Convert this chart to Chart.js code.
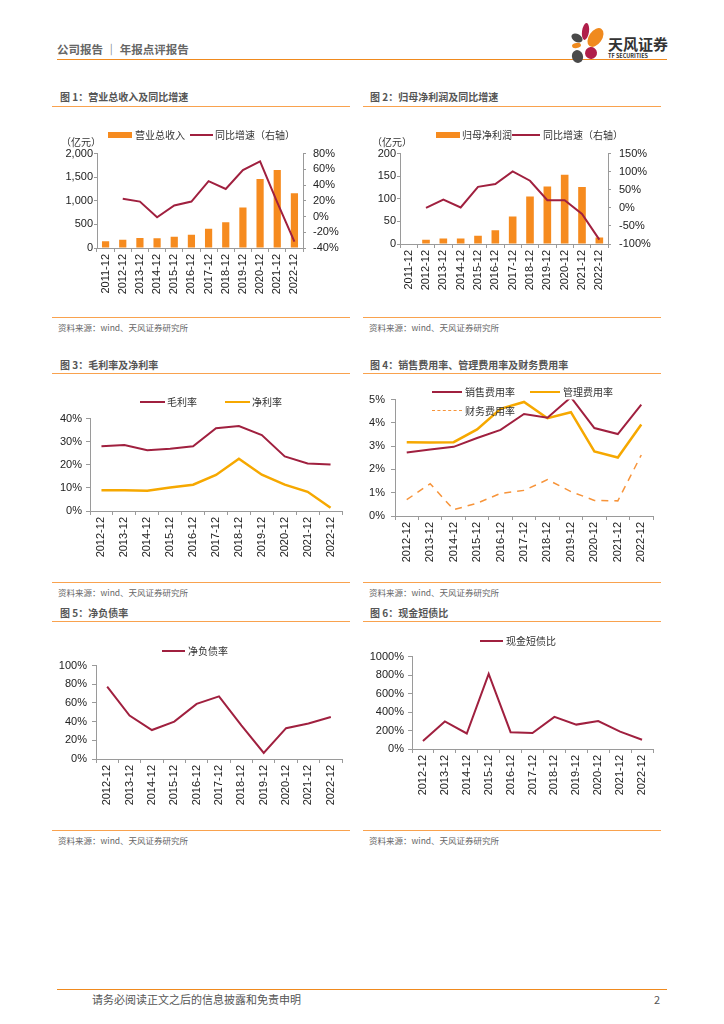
<!DOCTYPE html>
<html><head><meta charset="utf-8">
<script src="https://cdn.jsdelivr.net/npm/chart.js@4"></script>
<style>
body{margin:0;background:#fff;}
#page{position:relative;width:724px;height:1024px;overflow:hidden;background:#fff;font-family:"Noto Sans CJK SC","Noto Sans",sans-serif;}
.t{position:absolute;white-space:nowrap;}
.hl{position:absolute;height:0;}
canvas{position:absolute;}
.petal{position:absolute;border-radius:50%;}
</style></head><body><div id="page"></div>
<script>
// ---------------- DATA ----------------
const categories12 = ['2011-12','2012-12','2013-12','2014-12','2015-12','2016-12','2017-12','2018-12','2019-12','2020-12','2021-12','2022-12'];
const categories11 = ['2012-12','2013-12','2014-12','2015-12','2016-12','2017-12','2018-12','2019-12','2020-12','2021-12','2022-12'];
const revenue        = [143, 175, 212, 205, 238, 280, 408, 545, 858, 1462, 1650, 1158];
const revenueGrowth  = [null, 22.5, 19, -1, 14, 19, 45, 35, 59, 70, 18, -32];
const netProfit      = [null, 9.5, 12, 12, 18.5, 30.5, 61, 105, 127, 153, 126, 14.5];
const netProfitGrowth= [null, 0, 23, 1, 58, 66, 101, 75, 21, 21, -17, -88];
const grossMargin    = [28.0, 28.6, 26.3, 26.9, 28.0, 35.8, 36.8, 32.9, 23.6, 20.6, 20.1];
const netMargin      = [9.0, 9.0, 8.8, 10.2, 11.4, 15.6, 22.6, 15.7, 11.4, 8.3, 1.4];
const sellingRate    = [2.73, 2.86, 2.97, 3.35, 3.70, 4.38, 4.22, 5.10, 3.78, 3.52, 4.78];
const adminRate      = [3.17, 3.16, 3.17, 3.72, 4.60, 4.90, 4.20, 4.46, 2.77, 2.51, 3.93];
const financeRate    = [0.70, 1.39, 0.27, 0.55, 0.97, 1.10, 1.56, 1.05, 0.67, 0.65, 2.62];
const netDebtRatio   = [77.5, 46.5, 31, 40, 59, 67, 36, 6.5, 33, 38, 45];
const cashShortDebt  = [86, 298, 168, 812, 182, 172, 348, 264, 302, 188, 100];

// ---------------- STYLE ----------------
const MAROON = '#A0203F', ORANGE = '#F68B1F', GOLD = '#F6A800', DASHOR = '#F7943A';
const AX = '#9a9a9a', TC = '#222', NUM = "'Liberation Sans', Arial, sans-serif";
const page = document.getElementById('page');

function txt(s, x, yc, size, color, weight){
  const d = document.createElement('div');
  d.className = 't'; d.textContent = s;
  d.style.left = x + 'px'; d.style.top = (yc - size*0.6) + 'px';
  d.style.fontSize = size + 'px'; d.style.lineHeight = (size*1.2) + 'px';
  d.style.color = color || '#333'; d.style.fontWeight = weight || 'normal';
  page.appendChild(d); return d;
}
function hline(x0, x1, y, color, w){
  const d = document.createElement('div'); d.className = 'hl';
  d.style.left = x0 + 'px'; d.style.top = (y - w/2) + 'px'; d.style.width = (x1 - x0) + 'px';
  d.style.borderTop = w + 'px solid ' + color; page.appendChild(d);
}
function swatch(kind, color, x0, x1, y){
  const d = document.createElement('div'); d.style.position = 'absolute';
  d.style.left = x0 + 'px'; d.style.width = (x1 - x0) + 'px';
  if (kind === 'bar'){ d.style.top = (y - 3) + 'px'; d.style.height = '6px'; d.style.background = color; }
  else if (kind === 'line'){ d.style.top = (y - 1) + 'px'; d.style.height = '0'; d.style.borderTop = '2px solid ' + color; }
  else if (kind === 'gold'){ d.style.top = (y - 1.25) + 'px'; d.style.height = '0'; d.style.borderTop = '2.5px solid ' + color; }
  else { d.style.top = (y - 0.75) + 'px'; d.style.height = '0'; d.style.borderTop = '1.5px dashed ' + color; }
  page.appendChild(d);
}
function petal(cx, cy, w, h, rot, color){
  const d = document.createElement('div'); d.className = 'petal';
  d.style.left = (cx - w/2) + 'px'; d.style.top = (cy - h/2) + 'px';
  d.style.width = w + 'px'; d.style.height = h + 'px';
  d.style.background = color; d.style.transform = 'rotate(' + rot + 'deg)';
  page.appendChild(d);
}

// ---------------- PAGE FRAME ----------------
txt('公司报告 ｜ 年报点评报告', 57, 50, 11.5, '#666', 'bold');
hline(57, 667, 60, '#F08A1E', 1.6);
petal(585, 31, 7, 17, 8, '#B01E4A');
petal(595, 37, 13, 21, 35, '#F08A1E');
petal(577, 37.5, 12, 8, 30, '#4a4a4a');
petal(576, 45.5, 9, 5, -10, '#F08A1E');
petal(577, 56, 11, 13, -20, '#4a4a4a');
petal(591, 53, 12, 12, 40, '#B01E4A');
txt('天风证券', 608, 44, 15, '#333', 'bold');
txt('TF SECURITIES', 608, 56, 5.5, '#333', 'bold');
hline(57, 667, 990, '#F08A1E', 1.6);
txt('请务必阅读正文之后的信息披露和免责申明', 92, 1000, 11, '#555');
txt('2', 654, 1000, 11, '#555');

const TITLES = [
  ['图 1：营业总收入及同比增速', 60, 97], ['图 2：归母净利润及同比增速', 370, 97],
  ['图 3：毛利率及净利率', 60, 365], ['图 4：销售费用率、管理费用率及财务费用率', 370, 365],
  ['图 5：净负债率', 60, 613], ['图 6：现金短债比', 370, 613]
];
TITLES.forEach(t => txt(t[0], t[1], t[2], 10, '#555', 'bold'));
[107, 374, 622].forEach(y => { hline(52, 350, y, '#F9A24E', 1.5); hline(363, 661, y, '#F9A24E', 1.5); });
[[318, 327], [583, 592], [831, 840]].forEach(p => {
  hline(52, 350, p[0], '#F9A24E', 1.5); hline(363, 661, p[0], '#F9A24E', 1.5);
  txt('资料来源：wind、天风证券研究所', 58, p[1], 8.5, '#666');
  txt('资料来源：wind、天风证券研究所', 369, p[1], 8.5, '#666');
});

// ---------------- CHART HELPERS ----------------
function xAxis(xh){
  return {type:'category', offset:true,
    grid:{offset:true, drawOnChartArea:false, tickLength:4, color:AX},
    border:{color:AX},
    ticks:{autoSkip:false, minRotation:90, maxRotation:90, padding:2, color:TC, font:{size:11, family:NUM}},
    afterFit:s => { s.height = xh; }};
}
function yAxis(pos, min, max, step, fmt, w, pad, tl){
  return {type:'linear', position:pos, min:min, max:max,
    grid:{drawOnChartArea:false, tickLength:tl, color:AX},
    border:{color:AX},
    ticks:{stepSize:step, autoSkip:false, callback:fmt, padding:pad, color:TC, font:{size:11, family:NUM}},
    afterFit:s => { s.width = w; }};
}
const pct = v => v + '%';
const thou = v => v.toLocaleString('en-US');
function mk(g, type, labels, datasets, scales){
  const c = document.createElement('canvas');
  c.width = g.w; c.height = g.h;
  c.style.left = g.l + 'px'; c.style.top = g.t + 'px';
  c.style.width = g.w + 'px'; c.style.height = g.h + 'px';
  page.appendChild(c);
  return new Chart(c, {type:type, data:{labels:labels, datasets:datasets},
    options:{responsive:false, animation:false,
      layout:{padding:{top:g.pt, right:g.pr || 0, left:0, bottom:0}},
      plugins:{legend:{display:false}, tooltip:{enabled:false}},
      elements:{point:{radius:0}, line:{tension:0}},
      scales:scales}});
}

// ---------------- CHART 1 ----------------
mk({l:55, t:140, w:295, h:160, pt:10}, 'bar', categories12, [
  {type:'line', label:'同比增速（右轴）', data:revenueGrowth, yAxisID:'y1', borderColor:MAROON, borderWidth:2, order:0, spanGaps:false},
  {type:'bar', label:'营业总收入', data:revenue, yAxisID:'y', backgroundColor:ORANGE, barPercentage:0.42, categoryPercentage:1, order:1}
], {x:xAxis(52), y:yAxis('left', 0, 2000, 500, thou, 42, 1, 3), y1:yAxis('right', -40, 80, 20, pct, 47, 7, 3)});
txt('（亿元）', 61, 142, 10, '#333');
swatch('bar', ORANGE, 108, 132, 135); txt('营业总收入', 135, 135, 10, '#333');
swatch('line', MAROON, 190, 213, 135); txt('同比增速（右轴）', 215, 135, 10, '#333');

// ---------------- CHART 2 ----------------
mk({l:362, t:139, w:298, h:161, pt:10}, 'bar', categories12, [
  {type:'line', label:'同比增速（右轴）', data:netProfitGrowth, yAxisID:'y1', borderColor:MAROON, borderWidth:2, order:0},
  {type:'bar', label:'归母净利润', data:netProfit, yAxisID:'y', backgroundColor:ORANGE, barPercentage:0.44, categoryPercentage:1, order:1}
], {x:xAxis(56), y:yAxis('left', 0, 200, 50, v => v, 38, 1, 3), y1:yAxis('right', -100, 150, 50, pct, 52, 8, 3)});
txt('（亿元）', 372, 142, 10, '#333');
swatch('bar', ORANGE, 436, 460, 135); txt('归母净利润', 462, 135, 10, '#333');
swatch('line', MAROON, 512, 540, 135); txt('同比增速（右轴）', 543, 135, 10, '#333');

// ---------------- CHART 3 ----------------
mk({l:52, t:408, w:298, h:157, pt:10, pr:8}, 'line', categories11, [
  {label:'毛利率', data:grossMargin, borderColor:MAROON, borderWidth:2},
  {label:'净利率', data:netMargin, borderColor:GOLD, borderWidth:2.5}
], {x:xAxis(54), y:yAxis('left', 0, 40, 10, pct, 38, 4, 4)});
swatch('line', MAROON, 140, 165, 402); txt('毛利率', 167, 402, 10, '#333');
swatch('gold', GOLD, 225, 250, 402); txt('净利率', 252, 402, 10, '#333');

// ---------------- CHART 4 ----------------
mk({l:360, t:387, w:300, h:183, pt:10, pr:7}, 'line', categories11, [
  {label:'销售费用率', data:sellingRate, borderColor:MAROON, borderWidth:2},
  {label:'管理费用率', data:adminRate, borderColor:GOLD, borderWidth:2.5},
  {label:'财务费用率', data:financeRate, borderColor:DASHOR, borderWidth:1.5, borderDash:[7,6]}
], {x:xAxis(54), y:yAxis('left', 0, 5, 1, pct, 35, 6, 4)});
swatch('line', MAROON, 432, 462, 392); txt('销售费用率', 465, 392, 10, '#333');
swatch('gold', GOLD, 530, 560, 392); txt('管理费用率', 563, 392, 10, '#333');
swatch('dash', DASHOR, 432, 462, 411); txt('财务费用率', 465, 411, 10, '#333');

// ---------------- CHART 5 ----------------
mk({l:52, t:654, w:298, h:156, pt:10, pr:8}, 'line', categories11, [
  {label:'净负债率', data:netDebtRatio, borderColor:MAROON, borderWidth:2}
], {x:xAxis(51), y:yAxis('left', 0, 100, 20, pct, 44, 5, 4)});
swatch('line', MAROON, 162, 185, 651); txt('净负债率', 188, 651, 10, '#333');

// ---------------- CHART 6 ----------------
mk({l:360, t:646, w:300, h:154, pt:10, pr:7}, 'line', categories11, [
  {label:'现金短债比', data:cashShortDebt, borderColor:MAROON, borderWidth:2}
], {x:xAxis(51), y:yAxis('left', 0, 1000, 200, pct, 52, 4, 4)});
swatch('line', MAROON, 480, 503, 641); txt('现金短债比', 506, 641, 10, '#333');
</script></body></html>
